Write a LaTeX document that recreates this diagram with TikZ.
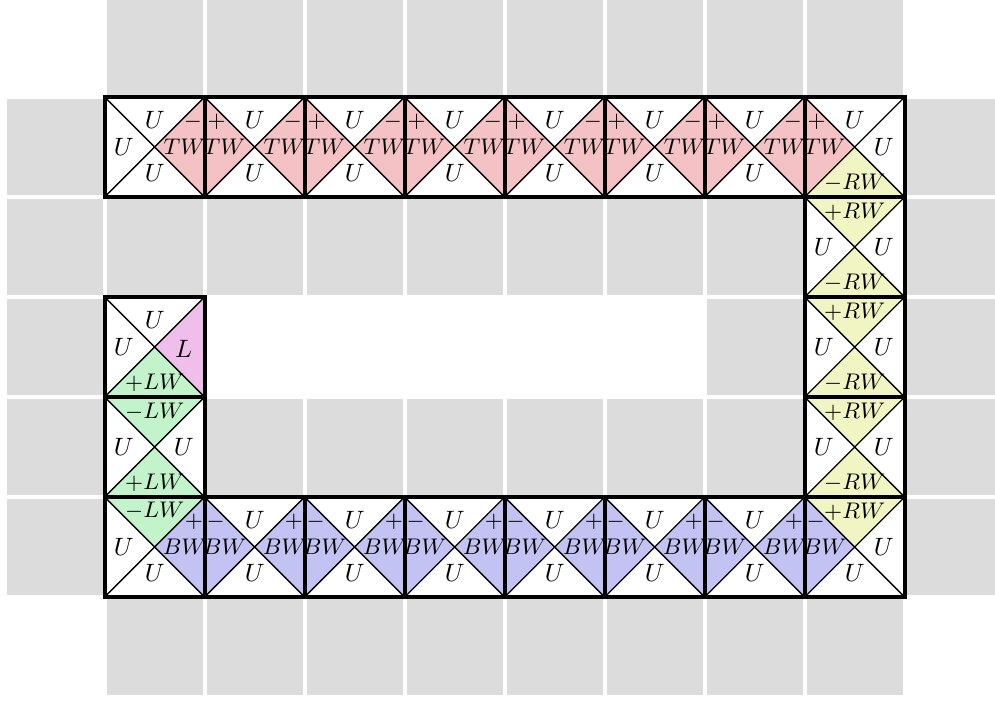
\documentclass[tikz,border=0pt]{standalone}
\usepackage{amsmath}
\usepackage{tikz}
\definecolor{cellgray}{HTML}{DCDCDC}
\definecolor{twpink}{HTML}{F4C2C4}
\definecolor{rwyellow}{HTML}{F0F5C3}
\definecolor{bwblue}{HTML}{C3C3F3}
\definecolor{lwgreen}{HTML}{C3F3CB}
\definecolor{lmagenta}{HTML}{F0BEEB}
\tikzset{
  freecell/.style={fill=cellgray},
  tileedge/.style={draw=black, line width=1.7pt},
  diag/.style={draw=black, line width=.55pt},
  ulab/.style={inner sep=0pt, font=\fontsize{10.3pt}{12pt}\selectfont},
  wlab/.style={inner sep=0pt, font=\fontsize{8.6pt}{10pt}\selectfont},
  stacklab/.style={wlab, anchor=base, yshift=-2.9pt}
}
% wedges of a tile whose north west corner is at (0,0)
\newcommand{\wedgeT}[1]{\fill[#1] (0,0) -- (1,0) -- (.5,-.5) -- cycle;}
\newcommand{\wedgeR}[1]{\fill[#1] (1,0) -- (1,-1) -- (.5,-.5) -- cycle;}
\newcommand{\wedgeB}[1]{\fill[#1] (0,-1) -- (1,-1) -- (.5,-.5) -- cycle;}
\newcommand{\wedgeL}[1]{\fill[#1] (0,0) -- (0,-1) -- (.5,-.5) -- cycle;}
\newcommand{\crossing}{\fill[white] (0,0) rectangle (1,-1);}
\newcommand{\diags}{\draw[diag] (0,0) -- (1,-1) (1,0) -- (0,-1);}
\newcommand{\stackL}[2]{\shortstack[l]{\kern1.5pt$#1$\\[0.5pt]$#2$}}
\newcommand{\stackR}[2]{\shortstack[r]{$#1$\kern1.5pt\\[0.5pt]$#2$}}

\begin{document}
\begin{tikzpicture}[x=1.4cm,y=1.4cm]
  \useasboundingbox (-0.047,-0.03) rectangle (9.903,-7.05);

  % free cells
  \foreach \r/\cols in {0/{1,...,8}, 1/{0,9}, 2/{0,...,7,9}, 3/{0,7,9},
                        4/{0,2,3,4,5,6,7,9}, 5/{0,9}, 6/{1,...,8}}
    \foreach \c in \cols
      \fill[freecell] (\c+.02,-\r-.02) rectangle (\c+.98,-\r-.98);

  % top row
  \begin{scope}[shift={(1,-1)}]
    \crossing \wedgeR{twpink} \diags
    \node[ulab] (t1-top) at (.5,-.23) {$U$};
    \node[ulab] (t1-left) at (.19,-.5) {$U$};
    \node[ulab] (t1-bot) at (.5,-.76) {$U$};
    \node[stacklab] (t1-right) at (.8,-.5) {\stackR{-}{TW}};
  \end{scope}
  \foreach \c in {2,...,7} {
    \begin{scope}[shift={(\c,-1)}]
      \crossing \wedgeL{twpink} \wedgeR{twpink} \diags
      \node[ulab] (t\c-top) at (.5,-.23) {$U$};
      \node[ulab] (t\c-bot) at (.5,-.76) {$U$};
      \node[stacklab] (t\c-left) at (.2,-.5) {\stackL{+}{TW}};
      \node[stacklab] (t\c-right) at (.8,-.5) {\stackR{-}{TW}};
    \end{scope}
  }
  \begin{scope}[shift={(8,-1)}]
    \crossing \wedgeL{twpink} \wedgeB{rwyellow} \diags
    \node[ulab] (t8-top) at (.5,-.23) {$U$};
    \node[ulab] (t8-right) at (.79,-.5) {$U$};
    \node[stacklab] (t8-left) at (.2,-.5) {\stackL{+}{TW}};
    \node[wlab] (t8-bot) at (.5,-.86) {$-RW$};
  \end{scope}

  % right column
  \foreach \r in {2,3,4} {
    \begin{scope}[shift={(8,-\r)}]
      \crossing \wedgeT{rwyellow} \wedgeB{rwyellow} \diags
      \node[wlab] (r\r-top) at (.5,-.15) {$+RW$};
      \node[ulab] (r\r-left) at (.19,-.5) {$U$};
      \node[ulab] (r\r-right) at (.79,-.5) {$U$};
      \node[wlab] (r\r-bot) at (.5,-.86) {$-RW$};
    \end{scope}
  }

  % bottom row
  \begin{scope}[shift={(8,-5)}]
    \crossing \wedgeT{rwyellow} \wedgeL{bwblue} \diags
    \node[wlab] (b8-top) at (.5,-.15) {$+RW$};
    \node[stacklab] (b8-left) at (.2,-.5) {\stackL{-}{BW}};
    \node[ulab] (b8-right) at (.79,-.5) {$U$};
    \node[ulab] (b8-bot) at (.5,-.76) {$U$};
  \end{scope}
  \foreach \c in {2,...,7} {
    \begin{scope}[shift={(\c,-5)}]
      \crossing \wedgeL{bwblue} \wedgeR{bwblue} \diags
      \node[ulab] (b\c-top) at (.5,-.23) {$U$};
      \node[ulab] (b\c-bot) at (.5,-.76) {$U$};
      \node[stacklab] (b\c-left) at (.2,-.5) {\stackL{-}{BW}};
      \node[stacklab] (b\c-right) at (.8,-.5) {\stackR{+}{BW}};
    \end{scope}
  }
  \begin{scope}[shift={(1,-5)}]
    \crossing \wedgeT{lwgreen} \wedgeR{bwblue} \diags
    \node[wlab] (b1-top) at (.5,-.14) {$-LW$};
    \node[ulab] (b1-left) at (.19,-.5) {$U$};
    \node[ulab] (b1-bot) at (.5,-.76) {$U$};
    \node[stacklab] (b1-right) at (.8,-.5) {\stackR{+}{BW}};
  \end{scope}

  % left column
  \begin{scope}[shift={(1,-4)}]
    \crossing \wedgeT{lwgreen} \wedgeB{lwgreen} \diags
    \node[wlab] (l4-top) at (.5,-.15) {$-LW$};
    \node[ulab] (l4-left) at (.19,-.5) {$U$};
    \node[ulab] (l4-right) at (.79,-.5) {$U$};
    \node[wlab] (l4-bot) at (.5,-.86) {$+LW$};
  \end{scope}
  \begin{scope}[shift={(1,-3)}]
    \crossing \wedgeR{lmagenta} \wedgeB{lwgreen} \diags
    \node[ulab] (l3-top) at (.5,-.23) {$U$};
    \node[ulab] (l3-left) at (.19,-.5) {$U$};
    \node[ulab] (l3-right) at (.79,-.52) {$L$};
    \node[wlab] (l3-bot) at (.5,-.86) {$+LW$};
  \end{scope}

  % tile edges
  \foreach \c in {1,...,8} {
    \draw[tileedge] (\c,-1) rectangle ++(1,-1);
    \draw[tileedge] (\c,-5) rectangle ++(1,-1);
  }
  \foreach \r in {2,3,4} \draw[tileedge] (8,-\r) rectangle ++(1,-1);
  \foreach \r in {3,4} \draw[tileedge] (1,-\r) rectangle ++(1,-1);
\end{tikzpicture}
\end{document}
